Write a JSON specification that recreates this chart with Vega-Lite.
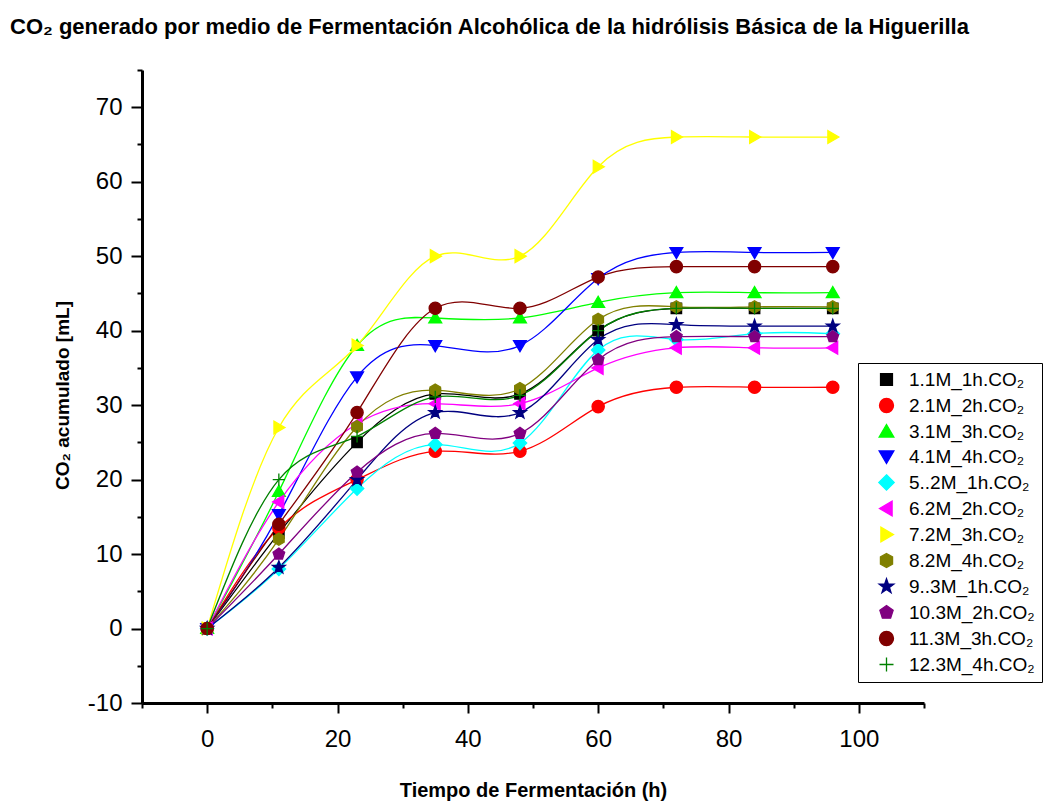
{
  "$schema": "https://vega.github.io/schema/vega-lite/v6.json",
  "width": 782,
  "height": 633,
  "autosize": "none",
  "padding": {"left": 142, "top": 70, "right": 132, "bottom": 98},
  "background": "white",
  "title": {
    "text": "CO₂ generado por medio de Fermentación Alcohólica de la hidrólisis Básica de la Higuerilla",
    "anchor": "start",
    "frame": "group",
    "dx": -132,
    "offset": 19,
    "font": "Liberation Sans",
    "fontSize": 22,
    "fontWeight": "bold",
    "color": "black"
  },
  "config": {
    "view": {"stroke": null},
    "font": "Liberation Sans"
  },
  "data": {
    "values": [
      {"s": "1.1M_1h.CO₂", "t": 0, "v": 0}, {"s": "1.1M_1h.CO₂", "t": 11, "v": 12.8}, {"s": "1.1M_1h.CO₂", "t": 23, "v": 25}, {"s": "1.1M_1h.CO₂", "t": 35, "v": 31.5}, {"s": "1.1M_1h.CO₂", "t": 48, "v": 31.5}, {"s": "1.1M_1h.CO₂", "t": 60, "v": 40}, {"s": "1.1M_1h.CO₂", "t": 72, "v": 43}, {"s": "1.1M_1h.CO₂", "t": 84, "v": 43}, {"s": "1.1M_1h.CO₂", "t": 96, "v": 43},
      {"s": "2.1M_2h.CO₂", "t": 0, "v": 0}, {"s": "2.1M_2h.CO₂", "t": 11, "v": 13.5}, {"s": "2.1M_2h.CO₂", "t": 23, "v": 20}, {"s": "2.1M_2h.CO₂", "t": 35, "v": 23.8}, {"s": "2.1M_2h.CO₂", "t": 48, "v": 23.8}, {"s": "2.1M_2h.CO₂", "t": 60, "v": 29.8}, {"s": "2.1M_2h.CO₂", "t": 72, "v": 32.4}, {"s": "2.1M_2h.CO₂", "t": 84, "v": 32.4}, {"s": "2.1M_2h.CO₂", "t": 96, "v": 32.4},
      {"s": "3.1M_3h.CO₂", "t": 0, "v": 0}, {"s": "3.1M_3h.CO₂", "t": 11, "v": 18.4}, {"s": "3.1M_3h.CO₂", "t": 23, "v": 38}, {"s": "3.1M_3h.CO₂", "t": 35, "v": 41.7}, {"s": "3.1M_3h.CO₂", "t": 48, "v": 41.7}, {"s": "3.1M_3h.CO₂", "t": 60, "v": 43.8}, {"s": "3.1M_3h.CO₂", "t": 72, "v": 45.1}, {"s": "3.1M_3h.CO₂", "t": 84, "v": 45.1}, {"s": "3.1M_3h.CO₂", "t": 96, "v": 45.1},
      {"s": "4.1M_4h.CO₂", "t": 0, "v": 0}, {"s": "4.1M_4h.CO₂", "t": 11, "v": 15.3}, {"s": "4.1M_4h.CO₂", "t": 23, "v": 33.8}, {"s": "4.1M_4h.CO₂", "t": 35, "v": 38}, {"s": "4.1M_4h.CO₂", "t": 48, "v": 38}, {"s": "4.1M_4h.CO₂", "t": 60, "v": 47}, {"s": "4.1M_4h.CO₂", "t": 72, "v": 50.5}, {"s": "4.1M_4h.CO₂", "t": 84, "v": 50.5}, {"s": "4.1M_4h.CO₂", "t": 96, "v": 50.5},
      {"s": "5..2M_1h.CO₂", "t": 0, "v": 0}, {"s": "5..2M_1h.CO₂", "t": 11, "v": 8}, {"s": "5..2M_1h.CO₂", "t": 23, "v": 18.8}, {"s": "5..2M_1h.CO₂", "t": 35, "v": 24.7}, {"s": "5..2M_1h.CO₂", "t": 48, "v": 24.9}, {"s": "5..2M_1h.CO₂", "t": 60, "v": 37.4}, {"s": "5..2M_1h.CO₂", "t": 72, "v": 38.8}, {"s": "5..2M_1h.CO₂", "t": 84, "v": 39.6}, {"s": "5..2M_1h.CO₂", "t": 96, "v": 39.6},
      {"s": "6.2M_2h.CO₂", "t": 0, "v": 0}, {"s": "6.2M_2h.CO₂", "t": 11, "v": 17}, {"s": "6.2M_2h.CO₂", "t": 23, "v": 27.5}, {"s": "6.2M_2h.CO₂", "t": 35, "v": 30.2}, {"s": "6.2M_2h.CO₂", "t": 48, "v": 30.2}, {"s": "6.2M_2h.CO₂", "t": 60, "v": 35}, {"s": "6.2M_2h.CO₂", "t": 72, "v": 37.7}, {"s": "6.2M_2h.CO₂", "t": 84, "v": 37.7}, {"s": "6.2M_2h.CO₂", "t": 96, "v": 37.7},
      {"s": "7.2M_3h.CO₂", "t": 0, "v": 0}, {"s": "7.2M_3h.CO₂", "t": 11, "v": 27}, {"s": "7.2M_3h.CO₂", "t": 23, "v": 38}, {"s": "7.2M_3h.CO₂", "t": 35, "v": 50}, {"s": "7.2M_3h.CO₂", "t": 48, "v": 50}, {"s": "7.2M_3h.CO₂", "t": 60, "v": 62}, {"s": "7.2M_3h.CO₂", "t": 72, "v": 66}, {"s": "7.2M_3h.CO₂", "t": 84, "v": 66}, {"s": "7.2M_3h.CO₂", "t": 96, "v": 66},
      {"s": "8.2M_4h.CO₂", "t": 0, "v": 0}, {"s": "8.2M_4h.CO₂", "t": 11, "v": 12}, {"s": "8.2M_4h.CO₂", "t": 23, "v": 27.1}, {"s": "8.2M_4h.CO₂", "t": 35, "v": 32}, {"s": "8.2M_4h.CO₂", "t": 48, "v": 32.2}, {"s": "8.2M_4h.CO₂", "t": 60, "v": 41.5}, {"s": "8.2M_4h.CO₂", "t": 72, "v": 43.2}, {"s": "8.2M_4h.CO₂", "t": 84, "v": 43.2}, {"s": "8.2M_4h.CO₂", "t": 96, "v": 43.2},
      {"s": "9..3M_1h.CO₂", "t": 0, "v": 0}, {"s": "9..3M_1h.CO₂", "t": 11, "v": 8.2}, {"s": "9..3M_1h.CO₂", "t": 23, "v": 20}, {"s": "9..3M_1h.CO₂", "t": 35, "v": 29}, {"s": "9..3M_1h.CO₂", "t": 48, "v": 29}, {"s": "9..3M_1h.CO₂", "t": 60, "v": 38.8}, {"s": "9..3M_1h.CO₂", "t": 72, "v": 40.8}, {"s": "9..3M_1h.CO₂", "t": 84, "v": 40.6}, {"s": "9..3M_1h.CO₂", "t": 96, "v": 40.6},
      {"s": "10.3M_2h.CO₂", "t": 0, "v": 0}, {"s": "10.3M_2h.CO₂", "t": 11, "v": 10}, {"s": "10.3M_2h.CO₂", "t": 23, "v": 21}, {"s": "10.3M_2h.CO₂", "t": 35, "v": 26.2}, {"s": "10.3M_2h.CO₂", "t": 48, "v": 26.2}, {"s": "10.3M_2h.CO₂", "t": 60, "v": 36.1}, {"s": "10.3M_2h.CO₂", "t": 72, "v": 39.2}, {"s": "10.3M_2h.CO₂", "t": 84, "v": 39.2}, {"s": "10.3M_2h.CO₂", "t": 96, "v": 39.2},
      {"s": "11.3M_3h.CO₂", "t": 0, "v": 0}, {"s": "11.3M_3h.CO₂", "t": 11, "v": 14}, {"s": "11.3M_3h.CO₂", "t": 23, "v": 29}, {"s": "11.3M_3h.CO₂", "t": 35, "v": 43}, {"s": "11.3M_3h.CO₂", "t": 48, "v": 43}, {"s": "11.3M_3h.CO₂", "t": 60, "v": 47.2}, {"s": "11.3M_3h.CO₂", "t": 72, "v": 48.6}, {"s": "11.3M_3h.CO₂", "t": 84, "v": 48.6}, {"s": "11.3M_3h.CO₂", "t": 96, "v": 48.6},
      {"s": "12.3M_4h.CO₂", "t": 0, "v": 0}, {"s": "12.3M_4h.CO₂", "t": 11, "v": 20}, {"s": "12.3M_4h.CO₂", "t": 23, "v": 25.8}, {"s": "12.3M_4h.CO₂", "t": 35, "v": 31.1}, {"s": "12.3M_4h.CO₂", "t": 48, "v": 31.3}, {"s": "12.3M_4h.CO₂", "t": 60, "v": 40}, {"s": "12.3M_4h.CO₂", "t": 72, "v": 43}, {"s": "12.3M_4h.CO₂", "t": 84, "v": 43}, {"s": "12.3M_4h.CO₂", "t": 96, "v": 43}
    ]
  },
  "encoding": {
    "x": {
      "field": "t", "type": "quantitative",
      "scale": {"domain": [-10, 110], "nice": false, "zero": false},
      "axis": {
        "title": "Tiempo de Fermentación (h)",
        "values": [-10, 0, 10, 20, 30, 40, 50, 60, 70, 80, 90, 100, 110],
        "labelExpr": "datum.value % 20 === 0 && datum.value >= 0 && datum.value <= 100 ? toString(datum.value) : ''",
        "grid": false,
        "domainColor": "black", "domainWidth": 3,
        "tickColor": "black", "tickWidth": 2,
        "tickSize": {"condition": {"test": "datum.value % 20 === 0", "value": 10}, "value": 5},
        "labelFont": "Liberation Sans", "labelFontSize": 24, "labelColor": "black", "labelPadding": 14,
        "labelFlush": false, "labelOverlap": false,
        "titleFont": "Liberation Sans", "titleFontSize": 20, "titleFontWeight": "bold", "titleColor": "black",
        "titleBaseline": "alphabetic", "titleY": 93
      }
    },
    "y": {
      "field": "v", "type": "quantitative",
      "scale": {"domain": [-10, 75], "nice": false, "zero": false},
      "axis": {
        "title": "CO₂ acumulado [mL]",
        "values": [-10, -5, 0, 5, 10, 15, 20, 25, 30, 35, 40, 45, 50, 55, 60, 65, 70, 75],
        "labelExpr": "datum.value % 10 === 0 ? toString(datum.value) : ''",
        "grid": false,
        "domainColor": "black", "domainWidth": 3,
        "tickColor": "black", "tickWidth": 2,
        "tickSize": {"condition": {"test": "datum.value % 10 === 0", "value": 11}, "value": 5},
        "labelFont": "Liberation Sans", "labelFontSize": 24, "labelColor": "black", "labelPadding": 9,
        "labelFlush": false, "labelOverlap": false,
        "titleFont": "Liberation Sans", "titleFontSize": 19, "titleFontWeight": "bold", "titleColor": "black",
        "titleX": -80, "titleY": 325, "titleAlign": "center", "titleBaseline": "middle", "titleAngle": -90
      }
    }
  },
  "layer": [
    {
      "mark": {"type": "line", "interpolate": "natural", "strokeWidth": 1.3},
      "encoding": {
        "color": {
          "field": "s", "type": "nominal",
          "scale": {
            "domain": ["1.1M_1h.CO₂", "2.1M_2h.CO₂", "3.1M_3h.CO₂", "4.1M_4h.CO₂", "5..2M_1h.CO₂", "6.2M_2h.CO₂", "7.2M_3h.CO₂", "8.2M_4h.CO₂", "9..3M_1h.CO₂", "10.3M_2h.CO₂", "11.3M_3h.CO₂", "12.3M_4h.CO₂"],
            "range": ["#000000", "#FF0000", "#00FF00", "#0000FF", "#00FFFF", "#FF00FF", "#FFFF00", "#808000", "#000080", "#800080", "#800000", "#008000"]
          },
          "legend": {
            "title": null,
            "orient": "none",
            "legendX": 716,
            "legendY": 293,
            "padding": 7,
            "strokeColor": "black",
            "fillColor": "white",
            "symbolSize": 196,
            "symbolOffset": 12,
            "symbolStrokeWidth": 1.3,
            "labelOffset": 13,
            "labelFont": "Liberation Sans",
            "labelFontSize": 19,
            "labelColor": "black",
            "rowPadding": 5,
            "labelLimit": 300
          }
        }
      }
    },
    {
      "mark": {"type": "point", "filled": true, "size": 150, "strokeWidth": 1.3, "opacity": 1},
      "encoding": {
        "color": {"field": "s", "type": "nominal", "legend": null},
        "stroke": {
          "field": "s", "type": "nominal",
          "scale": {
            "domain": ["1.1M_1h.CO₂", "2.1M_2h.CO₂", "3.1M_3h.CO₂", "4.1M_4h.CO₂", "5..2M_1h.CO₂", "6.2M_2h.CO₂", "7.2M_3h.CO₂", "8.2M_4h.CO₂", "9..3M_1h.CO₂", "10.3M_2h.CO₂", "11.3M_3h.CO₂", "12.3M_4h.CO₂"],
            "range": ["#000000", "#FF0000", "#00FF00", "#0000FF", "#00FFFF", "#FF00FF", "#FFFF00", "#808000", "#000080", "#800080", "#800000", "#008000"]
          },
          "legend": null
        },
        "shape": {
          "field": "s", "type": "nominal",
          "scale": {
            "domain": ["1.1M_1h.CO₂", "2.1M_2h.CO₂", "3.1M_3h.CO₂", "4.1M_4h.CO₂", "5..2M_1h.CO₂", "6.2M_2h.CO₂", "7.2M_3h.CO₂", "8.2M_4h.CO₂", "9..3M_1h.CO₂", "10.3M_2h.CO₂", "11.3M_3h.CO₂", "12.3M_4h.CO₂"],
            "range": [
              "M-0.85,-0.85L0.85,-0.85L0.85,0.85L-0.85,0.85Z",
              "M1,0A1,1,0,1,1,-1,0A1,1,0,1,1,1,0Z",
              "M0,-1L1.05,0.8L-1.05,0.8Z",
              "M0,1L1.05,-0.8L-1.05,-0.8Z",
              "M0,-1.1L1.1,0L0,1.1L-1.1,0Z",
              "M-1,0L0.8,-1.05L0.8,1.05Z",
              "M1,0L-0.8,-1.05L-0.8,1.05Z",
              "M0,-1L0.866,-0.5L0.866,0.5L0,1L-0.866,0.5L-0.866,-0.5Z",
              "M0,-1.1L0.26,-0.36L1.05,-0.34L0.42,0.14L0.65,0.89L0,0.44L-0.65,0.89L-0.42,0.14L-1.05,-0.34L-0.26,-0.36Z",
              "M0,-1L0.951,-0.309L0.588,0.809L-0.588,0.809L-0.951,-0.309Z",
              "M1,0A1,1,0,1,1,-1,0A1,1,0,1,1,1,0Z",
              "M-1,0L1,0M0,-1L0,1"
            ]
          },
          "legend": null
        }
      }
    }
  ]
}
